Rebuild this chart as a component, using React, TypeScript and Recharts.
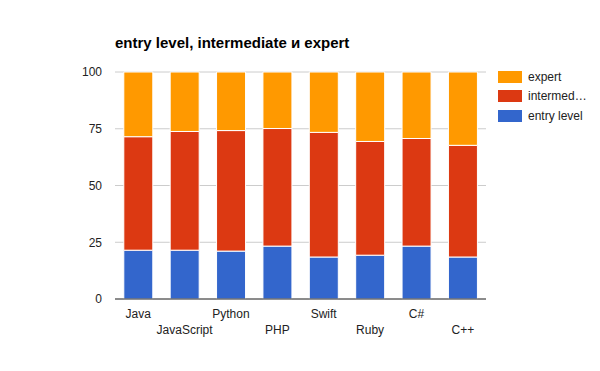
import { Bar, BarChart, CartesianGrid, XAxis, YAxis } from "recharts";

const languages = ["Java", "JavaScript", "Python", "PHP", "Swift", "Ruby", "C#", "C++"];
const entryLevel = [21.5, 21.5, 21.1, 23.3, 18.5, 19.3, 23.3, 18.5];
const intermediate = [50.0, 52.3, 53.1, 51.8, 54.9, 50.1, 47.4, 49.2];
const expert = [28.5, 26.2, 25.8, 24.9, 26.6, 30.6, 29.3, 32.3];
const yTicks = [0, 25, 50, 75, 100];
const seriesKeys = ["entry", "intermediate", "expert"];
const seriesNames = ["entry level", "intermediate", "expert"];
// legend shows the long name shortened, like the original
const legendLabels = ["entry level", "intermed…", "expert"];
const colors = ["#3366cc", "#dc3912", "#ff9900"];

const FONT = "Arial, 'Liberation Sans', sans-serif";

const data = languages.map((lang, i) => ({
  lang,
  entry: entryLevel[i],
  intermediate: intermediate[i],
  expert: expert[i],
}));

function StaggeredTick({ x, y, payload }: any) {
  const secondRow = payload.index % 2 === 1;
  return (
    <text x={x} y={y + (secondRow ? 33 : 17)} textAnchor="middle" fontSize={12} fill="#222" fontFamily={FONT}>
      {payload.value}
    </text>
  );
}

export default function App() {
  return (
    <div style={{ position: "absolute", top: 0, left: 0, width: 600, height: 371, background: "#fff", fontFamily: FONT }}>
      <div style={{ position: "absolute", left: 115, top: 35, fontSize: 15, lineHeight: "15px", fontWeight: "bold", color: "#000", whiteSpace: "nowrap" }}>
        entry level, intermediate и expert
      </div>
      <BarChart width={600} height={371} data={data} margin={{ top: 72, right: 114, bottom: 42, left: 0 }} barCategoryGap="19%">
        <CartesianGrid vertical={false} stroke="#cccccc" />
        <XAxis
          dataKey="lang"
          height={30}
          interval={0}
          tickLine={false}
          tickSize={0}
          axisLine={{ stroke: "#333", strokeWidth: 1 }}
          tick={<StaggeredTick />}
        />
        <YAxis
          width={115}
          domain={[0, 100]}
          ticks={yTicks}
          axisLine={false}
          tickLine={false}
          tickSize={0}
          tickMargin={13}
          tick={{ fontSize: 12, fill: "#222", fontFamily: FONT }}
        />
        {seriesKeys.map((key, i) => (
          <Bar key={key} dataKey={key} name={seriesNames[i]} stackId="a" fill={colors[i]} stroke="#fff" strokeWidth={1} isAnimationActive={false} />
        ))}
      </BarChart>
      {[2, 1, 0].map((idx, j) => (
        <div key={idx} style={{ position: "absolute", left: 498, top: 71 + j * 19.3, height: 12, display: "flex", alignItems: "center" }}>
          <div style={{ width: 24, height: 12, background: colors[idx] }} />
          <div style={{ marginLeft: 6, fontSize: 12, color: "#222", whiteSpace: "nowrap" }}>{legendLabels[idx]}</div>
        </div>
      ))}
    </div>
  );
}
